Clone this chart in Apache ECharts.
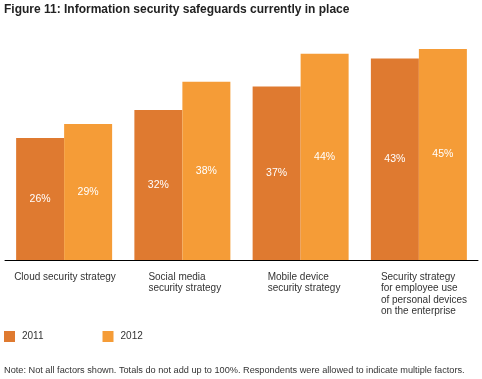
<!DOCTYPE html>
<html>
<head>
<meta charset="utf-8">
<script src="https://cdn.jsdelivr.net/npm/echarts@6/dist/echarts.min.js"></script>
<style>html,body{margin:0;padding:0;background:#fff}#c{width:482px;height:379px}</style>
</head>
<body>
<div id="c"></div>
<script>
const categories = [
  'Cloud security strategy',
  'Social media\nsecurity strategy',
  'Mobile device\nsecurity strategy',
  'Security strategy\nfor employee use\nof personal devices\non the enterprise'
];
const seriesNames = ['2011', '2012'];
const values2011 = [26, 32, 37, 43];
const values2012 = [29, 38, 44, 45];
const titleText = 'Figure 11: Information security safeguards currently in place';
const noteText = 'Note: Not all factors shown. Totals do not add up to 100%. Respondents were allowed to indicate multiple factors.';

const FONT = '"Liberation Sans", Arial, Helvetica, sans-serif';
const labelPads = [0, 32, 34, 24];
const rich = {};
labelPads.forEach((p, i) => {
  rich['c' + i] = { width: 100, align: 'left', padding: [0, 0, 0, p], fontSize: 10, lineHeight: 11.5, color: '#333', fontFamily: FONT };
});

const chart = echarts.init(document.getElementById('c'), null, { renderer: 'canvas' });
chart.setOption({
  animation: false,
  title: [
    { text: titleText, left: 4, top: 4, padding: 0, textStyle: { fontSize: 12, fontWeight: 'bold', color: '#222', fontFamily: FONT } },
    { text: noteText, left: 4, top: 366, padding: 0, textStyle: { fontSize: 9.2, fontWeight: 'normal', color: '#333', fontFamily: FONT } }
  ],
  legend: {
    data: seriesNames,
    left: 4, top: 331, padding: 0,
    icon: 'rect', itemWidth: 11, itemHeight: 11, itemGap: 59,
    textStyle: { fontSize: 10, color: '#333', fontFamily: FONT, padding: [0, 0, 0, 2] }
  },
  grid: { left: 5, right: 4, top: 49, bottom: 119, containLabel: false, outerBoundsMode: 'none' },
  xAxis: {
    type: 'category',
    data: categories,
    axisLine: { lineStyle: { color: '#000', width: 1 } },
    axisTick: { show: false },
    axisLabel: {
      margin: 11,
      interval: 0,
      align: 'center',
      hideOverlap: false,
      formatter: (v, i) => v.split('\n').map(l => '{c' + i + '|' + l + '}').join('\n'),
      rich: rich
    }
  },
  yAxis: { type: 'value', min: 0, max: 45, show: false, splitLine: { show: false } },
  series: [
    {
      name: seriesNames[0], type: 'bar', data: values2011, barWidth: 48, barGap: '0%',
      itemStyle: { color: '#DF7A30' },
      label: { show: true, position: 'inside', formatter: '{c}%', color: '#fff', fontSize: 10.5, fontFamily: FONT }
    },
    {
      name: seriesNames[1], type: 'bar', data: values2012, barWidth: 48, barGap: '0%',
      itemStyle: { color: '#F59C37' },
      label: { show: true, position: 'inside', formatter: '{c}%', color: '#fff', fontSize: 10.5, fontFamily: FONT }
    }
  ]
});
</script>
</body>
</html>
